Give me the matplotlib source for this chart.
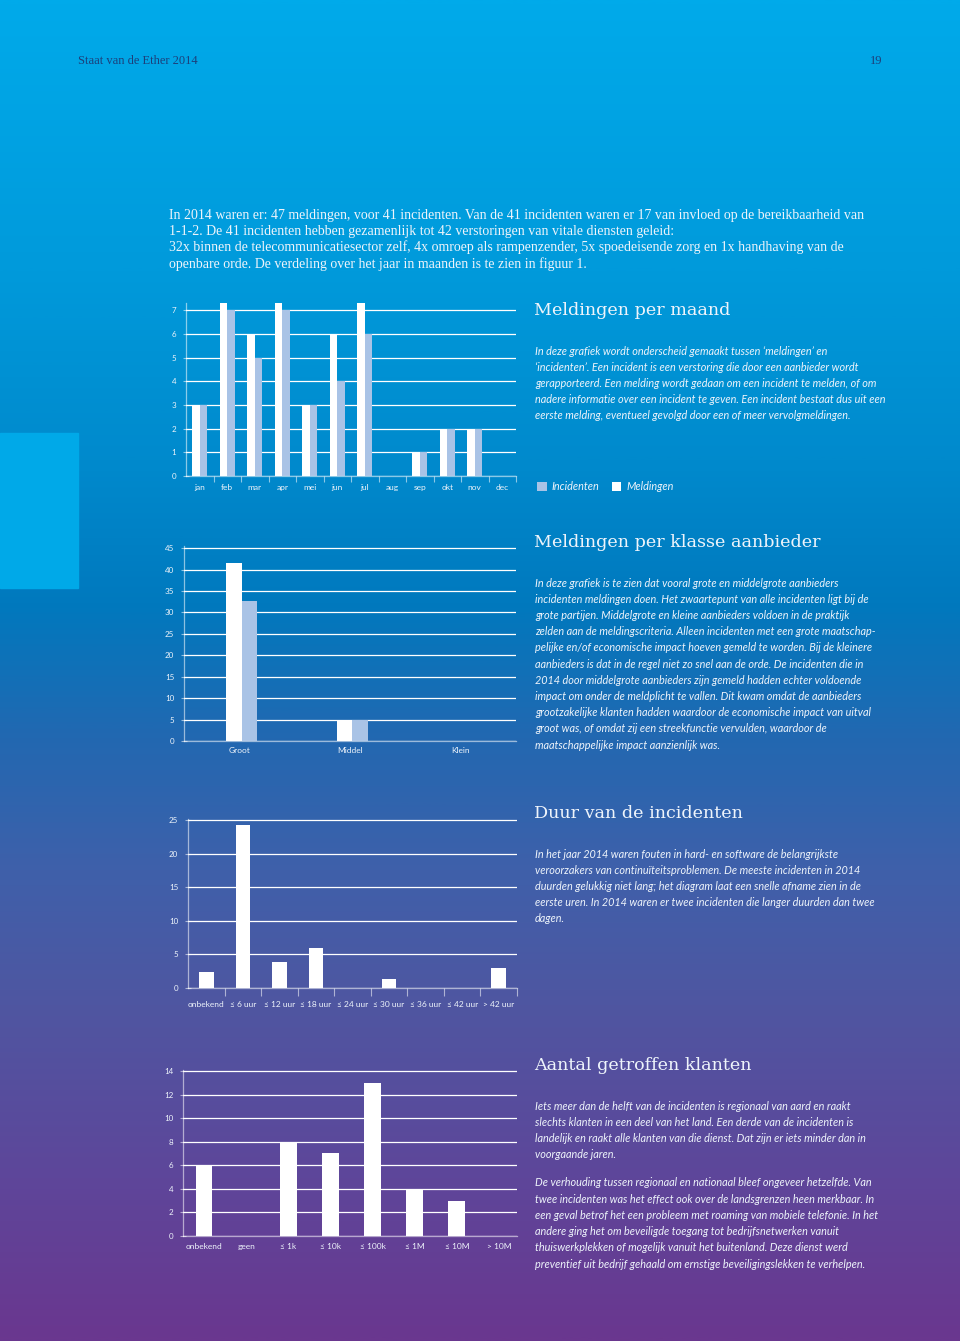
import numpy as np
import matplotlib
matplotlib.use("Agg")
import matplotlib.pyplot as plt
from matplotlib.colors import LinearSegmentedColormap

W, H = 960, 1341

# figuur 1: meldingen per maand
maanden = ['jan', 'feb', 'mar', 'apr', 'mei', 'jun', 'jul', 'aug', 'sep', 'okt', 'nov', 'dec']
meldingen_maand = [3, 8, 6, 8, 3, 6, 8, 0, 1, 2, 2, 0]
incidenten_maand = [3, 7, 5, 7, 3, 4, 6, 0, 1, 2, 2, 0]

# figuur 2: meldingen per klasse aanbieder
klassen = ['Groot', 'Middel', 'Klein']
meldingen_klasse = [41.5, 5, 0]
incidenten_klasse = [32.7, 5, 0]

# figuur 3: duur van de incidenten
duur = ['onbekend', '≤ 6 uur', '≤ 12 uur', '≤ 18 uur', '≤ 24 uur',
        '≤ 30 uur', '≤ 36 uur', '≤ 42 uur', '> 42 uur']
duur_incidenten = [2.4, 24.3, 3.8, 6.0, 0, 1.3, 0, 0, 3.0]

# figuur 4: aantal getroffen klanten
klanten = ['onbekend', 'geen', '≤ 1k', '≤ 10k', '≤ 100k', '≤ 1M', '≤ 10M', '> 10M']
klanten_incidenten = [6, 0, 8, 7, 13, 4, 3, 0]

WHITE = '#ffffff'
LIGHT = '#a9c3e6'
LINE = (1, 1, 1, 0.55)
TXT = '#eef4fb'
SANS = ['Lato', 'DejaVu Sans']

intro = [
    "In 2014 waren er: 47 meldingen, voor 41 incidenten. Van de 41 incidenten waren er 17 van invloed op de bereikbaarheid van",
    "1-1-2. De 41 incidenten hebben gezamenlijk tot 42 verstoringen van vitale diensten geleid:",
    "32x binnen de telecommunicatiesector zelf, 4x omroep als rampenzender, 5x spoedeisende zorg en 1x handhaving van de",
    "openbare orde. De verdeling over het jaar in maanden is te zien in figuur 1.",
]
tekst1 = [
    "In deze grafiek wordt onderscheid gemaakt tussen ‘meldingen’ en",
    "‘incidenten’. Een incident is een verstoring die door een aanbieder wordt",
    "gerapporteerd. Een melding wordt gedaan om een incident te melden, of om",
    "nadere informatie over een incident te geven. Een incident bestaat dus uit een",
    "eerste melding, eventueel gevolgd door een of meer vervolgmeldingen.",
]
tekst2 = [
    "In deze grafiek is te zien dat vooral grote en middelgrote aanbieders",
    "incidenten meldingen doen. Het zwaartepunt van alle incidenten ligt bij de",
    "grote partijen. Middelgrote en kleine aanbieders voldoen in de praktijk",
    "zelden aan de meldingscriteria. Alleen incidenten met een grote maatschap-",
    "pelijke en/of economische impact hoeven gemeld te worden. Bij de kleinere",
    "aanbieders is dat in de regel niet zo snel aan de orde. De incidenten die in",
    "2014 door middelgrote aanbieders zijn gemeld hadden echter voldoende",
    "impact om onder de meldplicht te vallen. Dit kwam omdat de aanbieders",
    "grootzakelijke klanten hadden waardoor de economische impact van uitval",
    "groot was, of omdat zij een streekfunctie vervulden, waardoor de",
    "maatschappelijke impact aanzienlijk was.",
]
tekst3 = [
    "In het jaar 2014 waren fouten in hard- en software de belangrijkste",
    "veroorzakers van continuïteitsproblemen. De meeste incidenten in 2014",
    "duurden gelukkig niet lang; het diagram laat een snelle afname zien in de",
    "eerste uren. In 2014 waren er twee incidenten die langer duurden dan twee",
    "dagen.",
]
tekst4a = [
    "Iets meer dan de helft van de incidenten is regionaal van aard en raakt",
    "slechts klanten in een deel van het land. Een derde van de incidenten is",
    "landelijk en raakt alle klanten van die dienst. Dat zijn er iets minder dan in",
    "voorgaande jaren.",
]
tekst4b = [
    "De verhouding tussen regionaal en nationaal bleef ongeveer hetzelfde. Van",
    "twee incidenten was het effect ook over de landsgrenzen heen merkbaar. In",
    "een geval betrof het een probleem met roaming van mobiele telefonie. In het",
    "andere ging het om beveiligde toegang tot bedrijfsnetwerken vanuit",
    "thuiswerkplekken of mogelijk vanuit het buitenland. Deze dienst werd",
    "preventief uit bedrijf gehaald om ernstige beveiligingslekken te verhelpen.",
]

fig = plt.figure(figsize=(W / 100, H / 100), dpi=100)

# achtergrond met verloop
bg = fig.add_axes([0, 0, 1, 1])
bg.set_xlim(0, W)
bg.set_ylim(H, 0)
bg.axis('off')
cmap = LinearSegmentedColormap.from_list('page', [
    (0.0, '#00aaea'), (0.2, '#009adb'), (0.35, '#0089cc'), (0.45, '#0079be'),
    (0.55, '#2268b1'), (0.65, '#3f60aa'), (0.75, '#4f56a1'), (0.88, '#5e469a'),
    (1.0, '#6a378f')])
grad = np.linspace(0, 1, 512).reshape(-1, 1)
bg.imshow(grad, cmap=cmap, aspect='auto', extent=[0, W, H, 0], zorder=0)
bg.add_patch(plt.Rectangle((0, 433), 78, 155, color='#00a9e8', zorder=1))

bg.text(78, 61, 'Staat van de Ether 2014', color='#1d3f7a', fontsize=9,
        family='Liberation Serif', va='center')
bg.text(882, 61, '19', color='#1d3f7a', fontsize=9, family='Liberation Serif',
        va='center', ha='right')


def lines(x, y0, rows, step=16.2, **kw):
    for i, r in enumerate(rows):
        bg.text(x, y0 + i * step, r, va='center', color=TXT, **kw)


lines(169, 215, intro, step=16.3, fontsize=10, family='Liberation Serif')

body = dict(fontsize=7.8, family=SANS, style='italic')
titel = dict(fontsize=12.6, family='DejaVu Serif', color=TXT, va='center')

bg.text(534, 310, 'Meldingen per maand', **titel)
lines(535, 351, tekst1, **body)
bg.text(534, 542, 'Meldingen per klasse aanbieder', **titel)
lines(535, 583, tekst2, **body)
bg.text(534, 813, 'Duur van de incidenten', **titel)
lines(535, 854, tekst3, **body)
bg.text(534, 1065, 'Aantal getroffen klanten', **titel)
lines(535, 1106, tekst4a, **body)
lines(535, 1183, tekst4b, **body)


def chart(x0, x1, y0, y1):
    ax = fig.add_axes([x0 / W, 1 - y1 / H, (x1 - x0) / W, (y1 - y0) / H])
    ax.patch.set_alpha(0)
    for s in ['top', 'right']:
        ax.spines[s].set_visible(False)
    for s in ['left', 'bottom']:
        ax.spines[s].set_color(LINE)
        ax.spines[s].set_linewidth(0.9)
    ax.set_axisbelow(True)
    ax.yaxis.grid(True, color=LINE, lw=0.9)
    ax.tick_params(axis='y', direction='inout', length=4, width=0.8, color=LINE,
                   labelcolor=TXT, labelsize=5.8, pad=5)
    ax.tick_params(axis='x', which='major', length=0, labelcolor=TXT, labelsize=6)
    return ax


def labels(ax, names, pad, seps=False):
    ax.set_xticks(range(len(names)))
    ax.set_xticklabels(names, family=SANS)
    ax.tick_params(axis='x', which='major', pad=pad)
    for lab in ax.get_yticklabels():
        lab.set_family(SANS)
    if seps:
        ax.set_xticks(np.arange(0.5, len(names) - 0.4), minor=True)
        ax.tick_params(axis='x', which='minor', direction='out', length=4,
                       width=0.8, color=LINE)


# figuur 1
ax1 = chart(186, 516, 303, 476)
x = np.arange(len(maanden))
b_meld = ax1.bar(x - 0.14, meldingen_maand, 0.28, color=WHITE)
b_inc = ax1.bar(x + 0.14, incidenten_maand, 0.28, color=LIGHT)
ax1.set_xlim(-0.5, 11.5)
ax1.set_ylim(0, 7.3)
ax1.set_yticks(range(0, 8))
labels(ax1, maanden, 5.5, seps=True)

fig.legend([b_inc, b_meld], ['Incidenten', 'Meldingen'], loc='center left',
           bbox_to_anchor=(527 / W, 1 - 487 / H), ncol=2, frameon=False,
           handlelength=0.9, handleheight=0.9, handletextpad=0.5,
           columnspacing=1.1, labelcolor=TXT,
           prop=dict(family=SANS, style='italic', size=7.8))

# figuur 2
ax2 = chart(184, 516, 546, 741)
x = np.arange(len(klassen))
ax2.bar(x - 0.05, meldingen_klasse, 0.14, color=WHITE)
ax2.bar(x + 0.09, incidenten_klasse, 0.14, color=LIGHT)
ax2.set_xlim(-0.5, 2.5)
ax2.set_ylim(0, 45.5)
ax2.set_yticks(range(0, 50, 5))
labels(ax2, klassen, 4.5)

# figuur 3
ax3 = chart(188, 517, 819, 988)
ax3.bar(np.arange(len(duur)), duur_incidenten, 0.4, color=WHITE)
ax3.set_xlim(-0.5, 8.3)
ax3.set_ylim(0, 25.15)
ax3.set_yticks(range(0, 30, 5))
labels(ax3, duur, 9.5, seps=True)
ax3.tick_params(axis='x', which='minor', length=6)

# figuur 4
ax4 = chart(183, 517, 1070, 1236)
ax4.bar(np.arange(len(klanten)), klanten_incidenten, 0.4, color=WHITE)
ax4.set_xlim(-0.5, 7.43)
ax4.set_ylim(0, 14.08)
ax4.set_yticks(range(0, 16, 2))
labels(ax4, klanten, 5)

fig.savefig('out.png', dpi=100)
